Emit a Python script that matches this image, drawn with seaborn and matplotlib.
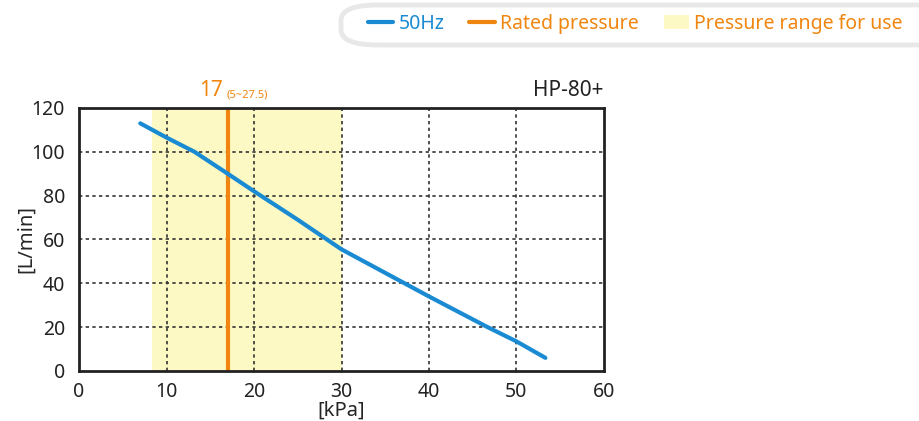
import matplotlib
matplotlib.use("Agg")
import matplotlib.pyplot as plt
import seaborn as sns
import pandas as pd
from matplotlib.lines import Line2D
from matplotlib.patches import Patch, FancyBboxPatch

# data
pressure = [7, 10, 13.2, 17, 20, 25, 30, 40, 46.7, 50, 53.3]
flow = [113, 106.5, 100, 90, 82, 69, 55.5, 34, 20, 13.5, 6]
rated = 17
range_lo, range_hi = 8.3, 30

blue = '#1a8bd3'
orange = '#f0860f'
yellow = '#fdf9c4'

sns.set_style("white")
plt.rcParams['font.family'] = ['Noto Sans', 'DejaVu Sans']

df = pd.DataFrame({'kPa': pressure, 'L/min': flow})

fig = plt.figure(figsize=(9.2, 4.21), dpi=100)
ax = fig.add_axes([0.0859, 0.1188, 0.5706, 0.6247])

ax.axvspan(range_lo, range_hi, color=yellow, lw=0, zorder=0)
for v in [10, 20, 30, 40, 50]:
    ax.axvline(v, color='#333333', lw=1.2, ls=(0, (2, 2)), zorder=1)
for v in [20, 40, 60, 80, 100]:
    ax.axhline(v, color='#333333', lw=1.2, ls=(0, (2, 2)), zorder=1)
ax.axvline(rated, color=orange, lw=3, zorder=2)
sns.lineplot(data=df, x='kPa', y='L/min', color=blue, lw=3, ax=ax, zorder=3)

ax.set_xlim(0, 60)
ax.set_ylim(0, 120)
ax.set_xticks(range(0, 61, 10))
ax.set_yticks(range(0, 121, 20))
ax.tick_params(axis='x', length=0, labelsize=14, colors='#222222', pad=8)
ax.tick_params(axis='y', length=0, labelsize=14, colors='#222222', pad=10)
ax.set_xlabel('[kPa]', fontsize=14.5, labelpad=-1)
ax.set_ylabel('[L/min]', fontsize=14.5, labelpad=-3)
for s in ax.spines.values():
    s.set_color('#222222')
    s.set_linewidth(2)

ax.text(rated - 0.5, 123, '17', color=orange, fontsize=15, ha='right', va='bottom')
ax.text(rated - 0.1, 123.5, '(5~27.5)', color=orange, fontsize=8, ha='left', va='bottom')
ax.text(60, 123, 'HP-80+', color='#222222', fontsize=15, ha='right', va='bottom')

# legend box at the top
box = FancyBboxPatch((341 / 920, 1 - 45 / 421), 640 / 920, 40 / 421,
                     boxstyle='round,pad=0,rounding_size=0.04',
                     transform=fig.transFigure, facecolor='white',
                     edgecolor='#e8e8e8', lw=3.5, mutation_aspect=421 / 920 * 2)
fig.patches.append(box)

handles = [Line2D([], [], color=blue, lw=3),
           Line2D([], [], color=orange, lw=3),
           Patch(facecolor=yellow, edgecolor='none')]
labels = ['50Hz', 'Rated pressure', 'Pressure range for use']
fig.legend(handles, labels, loc='center left', bbox_to_anchor=(368 / 920, 1 - 24 / 421),
           ncol=3, frameon=False, fontsize=14, labelcolor=[blue, orange, orange],
           handlelength=1.3, handletextpad=0.26, columnspacing=1.3, borderpad=0,
           borderaxespad=0)

fig.savefig('out.png', dpi=100)
